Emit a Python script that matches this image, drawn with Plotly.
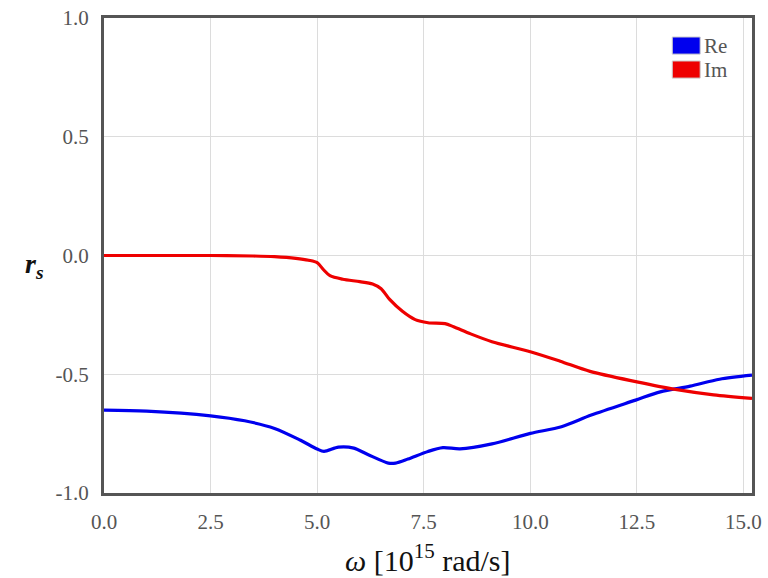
import plotly.graph_objects as go

# Data
omega = [0.0, 1.0, 2.5, 3.3, 4.0, 4.6, 5.0, 5.16, 5.5, 5.86, 6.2, 6.67, 6.84, 7.13, 7.6,
         7.95, 8.35, 9.1, 10.0, 10.73, 11.43, 12.47, 13.05, 13.75, 14.44, 15.2]
re_vals = [-0.651, -0.655, -0.675, -0.696, -0.728, -0.777, -0.815, -0.825, -0.807, -0.811,
           -0.839, -0.874, -0.874, -0.857, -0.825, -0.809, -0.814, -0.793, -0.749, -0.721,
           -0.672, -0.609, -0.574, -0.550, -0.521, -0.504]

omega_im = [0.0, 2.5, 3.5, 4.0, 4.5, 4.8, 5.0, 5.15, 5.3, 5.6, 6.0, 6.3, 6.5, 6.7, 7.0, 7.3,
            7.6, 8.0, 8.2, 8.6, 9.1, 10.0, 10.7, 11.4, 12.5, 13.4, 14.3, 15.2]
im_vals = [0.0, 0.0, -0.002, -0.005, -0.012, -0.02, -0.03, -0.06, -0.085, -0.1, -0.11,
           -0.12, -0.14, -0.185, -0.235, -0.27, -0.283, -0.287, -0.3, -0.33, -0.363,
           -0.405, -0.445, -0.488, -0.532, -0.564, -0.587, -0.602]

x_ticks = [0.0, 2.5, 5.0, 7.5, 10.0, 12.5, 15.0]
x_ticktext = ["0.0", "2.5", "5.0", "7.5", "10.0", "12.5", "15.0"]
y_ticks = [-1.0, -0.5, 0.0, 0.5, 1.0]
y_ticktext = ["-1.0", "-0.5", "0.0", "0.5", "1.0"]

series_names = ["Re", "Im"]
series_colors = ["#0000ee", "#ee0000"]

SERIF = "Liberation Serif, Times New Roman, serif"

fig = go.Figure()
fig.add_trace(go.Scatter(x=omega, y=re_vals, mode="lines", name="Re",
                         line=dict(color=series_colors[0], width=3.2, shape="spline", smoothing=0.8),
                         showlegend=False))
fig.add_trace(go.Scatter(x=omega_im, y=im_vals, mode="lines", name="Im",
                         line=dict(color=series_colors[1], width=3.2, shape="spline", smoothing=0.8),
                         showlegend=False))

fig.update_layout(
    width=768, height=578,
    margin=dict(l=104, r=16, t=18, b=85),
    paper_bgcolor="white", plot_bgcolor="white",
    font=dict(family=SERIF, color="#555555", size=21),
    xaxis=dict(range=[0, 15.2], tickvals=x_ticks, ticktext=x_ticktext,
               showgrid=True, gridcolor="#dcdcdc", gridwidth=1,
               showline=True, linecolor="#555555", linewidth=3, mirror=True,
               ticks="", ticklabelstandoff=8, zeroline=False, automargin=False),
    yaxis=dict(range=[-1, 1], tickvals=y_ticks, ticktext=y_ticktext,
               showgrid=True, gridcolor="#dcdcdc", gridwidth=1,
               showline=True, linecolor="#555555", linewidth=3, mirror=True,
               ticks="", ticklabelstandoff=8, zeroline=False, automargin=False),
)

# x-axis title
fig.add_annotation(text="<i>ω</i> [10<sup>15</sup> rad/s]", xref="paper", yref="paper",
                   x=0.5, y=-0.136, xanchor="center", yanchor="middle", showarrow=False,
                   font=dict(family=SERIF, size=30, color="#111111"))

# y-axis title horizontal
fig.add_annotation(text="<b><i>r<sub>s</sub></i></b>", xref="paper", yref="paper",
                   x=-0.125, y=0.48, showarrow=False,
                   font=dict(family=SERIF, size=28, color="#111111"))

# Legend swatches (top-right, inside)
for i, (nm, col) in enumerate(zip(series_names, series_colors)):
    y0 = 0.96 - i * 0.0505
    fig.add_shape(type="rect", xref="paper", yref="paper",
                  x0=0.877, x1=0.92, y0=y0 - 0.036, y1=y0,
                  fillcolor=col, line=dict(color="#cccccc", width=1))
    fig.add_annotation(text=nm, xref="paper", yref="paper", x=0.923, y=y0 - 0.018,
                       xanchor="left", yanchor="middle", showarrow=False,
                       font=dict(family=SERIF, size=21, color="#555555"))

fig.write_html("out.html")
